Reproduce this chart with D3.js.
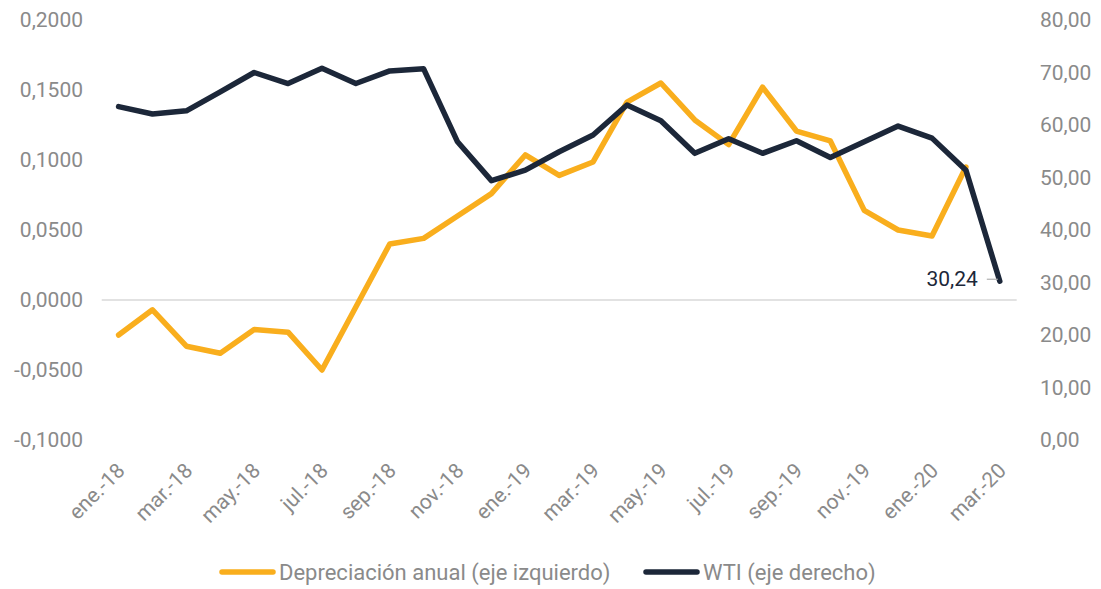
<!DOCTYPE html>
<html>
<head>
  <meta charset="utf-8">
  <script src="https://d3js.org/d3.v7.min.js"></script>
  <style>
  html, body {
    margin: 0px;
    background: #fff;
  }
  text {
    font-family: Roboto, "Liberation Sans", sans-serif;
    font-weight: 400;
  }
  .axis text { fill: #8a8a8a; font-size: 21px; }
  .legend text { fill: #8a8a8a; font-size: 22px; }
  </style>
</head>
<body>
<svg width="1101" height="589"></svg>
<script>

// months ene.-18 .. mar.-20
var months = ["ene.-18","feb.-18","mar.-18","abr.-18","may.-18","jun.-18","jul.-18","ago.-18","sep.-18","oct.-18","nov.-18","dic.-18",
              "ene.-19","feb.-19","mar.-19","abr.-19","may.-19","jun.-19","jul.-19","ago.-19","sep.-19","oct.-19","nov.-19","dic.-19",
              "ene.-20","feb.-20","mar.-20"];

// depreciacion anual (eje izquierdo), no value for mar.-20
var depreciacion = [-0.025,-0.007,-0.033,-0.038,-0.021,-0.023,-0.050,-0.005,0.040,0.044,0.060,0.076,
                    0.1036,0.089,0.0986,0.1414,0.155,0.1286,0.111,0.152,0.1207,0.1136,0.064,0.050,
                    0.0457,0.095];

// WTI (eje derecho)
var wti = [63.5,62.1,62.7,66.3,70.0,67.9,70.8,67.9,70.3,70.7,56.8,49.4,
           51.4,54.9,58.1,63.8,60.8,54.6,57.4,54.6,57.0,53.8,56.8,59.8,
           57.5,51.4,30.24];

var leftTicks = [-0.1,-0.05,0,0.05,0.1,0.15,0.2];
var rightTicks = [0,10,20,30,40,50,60,70,80];
var xLabels = months.filter(function(d,i){ return i % 2 === 0; });

var orange = "#f9ae1d", navy = "#1c2739";

var svg = d3.select("svg");

var x = d3.scalePoint().domain(months).range([118.6, 999.8]);
var yL = d3.scaleLinear().domain([-0.1, 0.2]).range([440, 20]);
var yR = d3.scaleLinear().domain([0, 80]).range([440, 20]);

// spanish style numbers: comma decimal, plain hyphen minus
var comma = function(f){ return function(d){ return d3.format(f)(d).replace("\u2212", "-").replace(".", ","); }; };

// zero line
svg.append("line")
  .attr("x1", 101.7).attr("x2", 1016.7)
  .attr("y1", yL(0)).attr("y2", yL(0))
  .attr("stroke", "#d9d9d9").attr("stroke-width", 1.5);

// left axis
var gl = svg.append("g").attr("class", "axis")
  .attr("transform", "translate(83,0)")
  .call(d3.axisLeft(yL).tickValues(leftTicks).tickSize(0).tickPadding(0).tickFormat(comma(".4f")));
gl.select(".domain").remove();

// right axis
var gr = svg.append("g").attr("class", "axis")
  .attr("transform", "translate(1040,0)")
  .call(d3.axisRight(yR).tickValues(rightTicks).tickSize(0).tickPadding(0).tickFormat(comma(".2f")));
gr.select(".domain").remove();

// x axis, rotated labels
var gx = svg.append("g").attr("class", "axis")
  .attr("transform", "translate(0,470)")
  .call(d3.axisBottom(x).tickValues(xLabels).tickSize(0).tickPadding(0));
gx.select(".domain").remove();
gx.selectAll("text")
  .attr("font-size", "20px")
  .attr("text-anchor", "end")
  .attr("dy", "0")
  .attr("y", 0)
  .attr("transform", "translate(7,2) rotate(-45)");

// lines
var lineL = d3.line().x(function(d,i){ return x(months[i]); }).y(function(d){ return yL(d); });
var lineR = d3.line().x(function(d,i){ return x(months[i]); }).y(function(d){ return yR(d); });

svg.append("path").datum(depreciacion)
  .attr("d", lineL)
  .attr("fill", "none").attr("stroke", orange)
  .attr("stroke-width", 5.5).attr("stroke-linejoin", "round").attr("stroke-linecap", "round");

svg.append("path").datum(wti)
  .attr("d", lineR)
  .attr("fill", "none").attr("stroke", navy)
  .attr("stroke-width", 5.5).attr("stroke-linejoin", "round").attr("stroke-linecap", "round");

// data label for last WTI point
var last = wti.length - 1;
var lx = x(months[last]), ly = yR(wti[last]);
svg.append("line")
  .attr("x1", lx - 13).attr("x2", lx - 2)
  .attr("y1", ly - 2).attr("y2", ly - 2)
  .attr("stroke", "#b0b0b0").attr("stroke-width", 1.2);
svg.append("text")
  .attr("x", lx - 22).attr("y", ly + 5)
  .attr("text-anchor", "end")
  .attr("font-size", "21px")
  .attr("fill", navy)
  .text(d3.format(".2f")(wti[last]).replace(".", ","));

// legend
var legend = svg.append("g").attr("class", "legend");
var items = [
  {name: "Depreciación anual (eje izquierdo)", color: orange, x: 220},
  {name: "WTI (eje derecho)", color: navy, x: 644}
];
items.forEach(function(d){
  legend.append("line")
    .attr("x1", d.x + 2).attr("x2", d.x + 53)
    .attr("y1", 572).attr("y2", 572)
    .attr("stroke", d.color).attr("stroke-width", 5.5).attr("stroke-linecap", "round");
  legend.append("text")
    .attr("x", d.x + 59).attr("y", 580)
    .text(d.name);
});

</script>
</body>
</html>
